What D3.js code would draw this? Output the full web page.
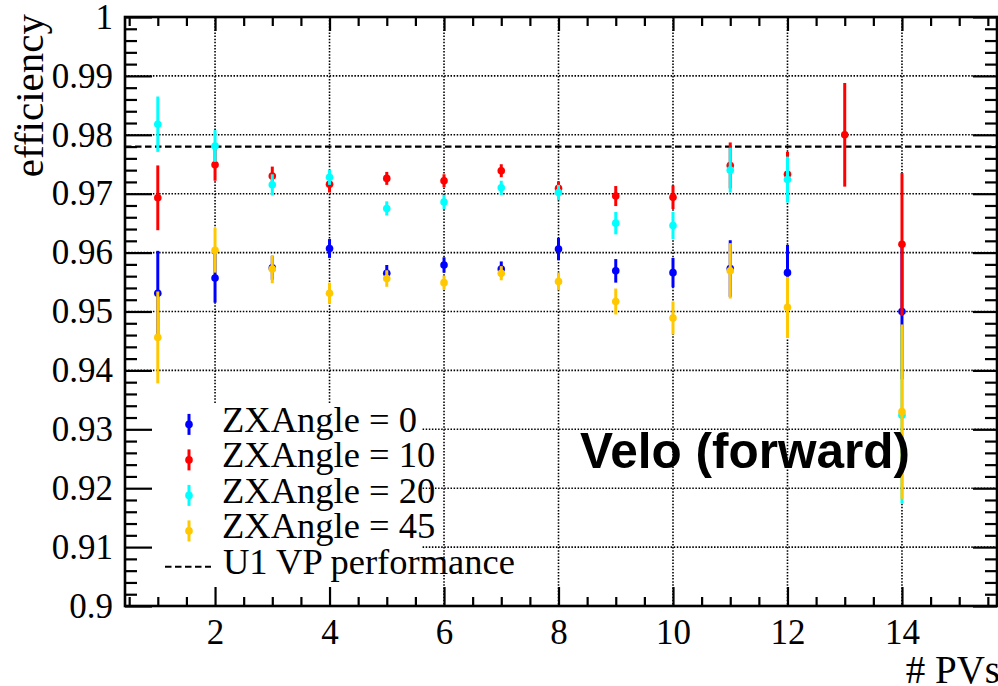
<!DOCTYPE html>
<html>
<head>
<meta charset="utf-8">
<script src="https://cdn.jsdelivr.net/npm/d3@7"></script>
<style>
	body { margin: 0; background: #fff; }
	svg { display: block; }
	.grid line { stroke: #000; stroke-width: 1.6; stroke-dasharray: 1.5 1.6; }
</style>
</head>
<body>
<div id="chart"></div>
<script>
// number of primary vertices
const nPV = [1, 2, 3, 4, 5, 6, 7, 8, 9, 10, 11, 12, 13, 14];

// efficiency per ZX angle (null = no point)
const eff0 = [0.9531, 0.9557, 0.9574, 0.9607, 0.9565, 0.9579, 0.9572, 0.9606, 0.9569, 0.9566, 0.9573, 0.9566, null, 0.9500];
const err0 = [0.0072, 0.0042, 0.0020, 0.0016, 0.0014, 0.0013, 0.0013, 0.0019, 0.0020, 0.0025, 0.0048, 0.0047, null, 0.0115];
const eff10 = [0.9693, 0.9749, 0.9730, 0.9716, 0.9726, 0.9722, 0.9739, 0.9709, 0.9696, 0.9694, 0.9748, 0.9733, 0.9800, 0.9614];
const err10 = [0.0055, 0.0027, 0.0016, 0.0014, 0.0011, 0.0011, 0.0011, 0.0012, 0.0017, 0.0020, 0.0039, 0.0038, 0.0088, 0.0121];
const eff20 = [0.9818, 0.9781, 0.9715, 0.9728, 0.9675, 0.9686, 0.9710, 0.9702, 0.9650, 0.9646, 0.9740, 0.9724, null, 0.9324];
const err20 = [0.0047, 0.0027, 0.0018, 0.0013, 0.0012, 0.0012, 0.0012, 0.0013, 0.0019, 0.0023, 0.0038, 0.0039, null, 0.0150];
const eff45 = [0.9456, 0.9604, 0.9572, 0.9531, 0.9556, 0.9549, 0.9565, 0.9551, 0.9517, 0.9489, 0.9569, 0.9507, null, 0.9330];
const err45 = [0.0078, 0.0038, 0.0024, 0.0018, 0.0014, 0.0012, 0.0012, 0.0015, 0.0022, 0.0028, 0.0047, 0.0052, null, 0.0148];

const seriesLabels = ["ZXAngle = 0", "ZXAngle = 10", "ZXAngle = 20", "ZXAngle = 45"];
const seriesColors = ["#0000ff", "#ff0000", "#00ffff", "#ffc800"];
const refLabel = "U1 VP performance";
const refValue = 0.978;

const xTicks = [2, 4, 6, 8, 10, 12, 14];
const yTicks = [0.9, 0.91, 0.92, 0.93, 0.94, 0.95, 0.96, 0.97, 0.98, 0.99, 1];

const width = 998, height = 686;
const frame = { left: 125, right: 997, top: 17, bottom: 606 };
const serif = "Liberation Serif, Times New Roman, serif";

const x = d3.scaleLinear().domain([0.427, 15.66]).range([frame.left, frame.right]);
const y = d3.scaleLinear().domain([0.9, 1]).range([frame.bottom, frame.top]);

const xMinor = d3.range(0.5, 15.6, 0.5).filter(v => xTicks.indexOf(v) < 0);
const yMinor = d3.range(0, 51).map(i => 0.9 + i * 0.002).filter(v => Math.abs(Math.round(v * 100) - v * 100) > 1e-6);

const svg = d3.select("#chart").append("svg")
	.attr("width", width)
	.attr("height", height);

// grid
const grid = svg.append("g").attr("class", "grid");
grid.selectAll(".gx")
	.data(xTicks)
	.join("line")
	.attr("x1", d => x(d)).attr("x2", d => x(d))
	.attr("y1", frame.top).attr("y2", frame.bottom);
grid.selectAll(".gy")
	.data(yTicks.filter(v => v > 0.9 && v < 1))
	.join("line")
	.attr("x1", frame.left).attr("x2", frame.right)
	.attr("y1", d => y(d)).attr("y2", d => y(d));

// legend background hides the grid
svg.append("rect")
	.attr("x", frame.left + 1).attr("y", 403)
	.attr("width", 421 - frame.left - 1).attr("height", frame.bottom - 403 - 1)
	.attr("fill", "#fff");

// reference line
svg.append("line")
	.attr("x1", frame.left).attr("x2", frame.right)
	.attr("y1", y(refValue)).attr("y2", y(refValue))
	.attr("stroke", "#000")
	.attr("stroke-width", 2.2)
	.attr("stroke-dasharray", "6.5 3.5");

// axes
const axisStyle = g => {
	g.select(".domain").remove();
	g.attr("font-family", serif).attr("font-size", 35);
	g.selectAll(".tick line").attr("stroke", "#000").attr("stroke-width", 2.2);
	g.selectAll(".tick text").attr("fill", "#000");
};

svg.append("g")
	.attr("transform", `translate(0,${frame.bottom})`)
	.call(d3.axisBottom(x).tickValues(xTicks).tickSize(-19).tickPadding(13).tickFormat(d3.format("d")))
	.call(axisStyle);
svg.append("g")
	.attr("transform", `translate(0,${frame.bottom})`)
	.call(d3.axisBottom(x).tickValues(xMinor).tickSize(-9).tickFormat(""))
	.call(axisStyle);
svg.append("g")
	.attr("transform", `translate(0,${frame.top})`)
	.call(d3.axisTop(x).tickValues(xTicks).tickSize(-14).tickFormat(""))
	.call(axisStyle);
svg.append("g")
	.attr("transform", `translate(0,${frame.top})`)
	.call(d3.axisTop(x).tickValues(xMinor).tickSize(-9).tickFormat(""))
	.call(axisStyle);

svg.append("g")
	.attr("transform", `translate(${frame.left},0)`)
	.call(d3.axisLeft(y).tickValues(yTicks).tickSize(-27).tickPadding(12).tickFormat(d => String(+d.toFixed(2))))
	.call(axisStyle);
svg.append("g")
	.attr("transform", `translate(${frame.left},0)`)
	.call(d3.axisLeft(y).tickValues(yMinor).tickSize(-12).tickFormat(""))
	.call(axisStyle);
svg.append("g")
	.attr("transform", `translate(${frame.right},0)`)
	.call(d3.axisRight(y).tickValues(yTicks).tickSize(-24).tickFormat(""))
	.call(axisStyle);
svg.append("g")
	.attr("transform", `translate(${frame.right},0)`)
	.call(d3.axisRight(y).tickValues(yMinor).tickSize(-12).tickFormat(""))
	.call(axisStyle);

// data
const series = [
	{ values: eff0, errors: err0 },
	{ values: eff10, errors: err10 },
	{ values: eff20, errors: err20 },
	{ values: eff45, errors: err45 }
];

series.forEach((s, k) => {
	const pts = nPV.map((n, i) => ({ n: n, v: s.values[i], e: s.errors[i] })).filter(d => d.v !== null);
	const g = svg.append("g").attr("class", "serie serie--" + k);
	g.selectAll("line")
		.data(pts)
		.join("line")
		.attr("x1", d => x(d.n)).attr("x2", d => x(d.n))
		.attr("y1", d => y(d.v - d.e)).attr("y2", d => y(d.v + d.e))
		.attr("stroke", seriesColors[k])
		.attr("stroke-width", 3);
	g.selectAll("circle")
		.data(pts)
		.join("circle")
		.attr("cx", d => x(d.n))
		.attr("cy", d => y(d.v))
		.attr("r", 3.8)
		.attr("fill", seriesColors[k]);
});

// frame
svg.append("rect")
	.attr("x", frame.left).attr("y", frame.top)
	.attr("width", frame.right - frame.left).attr("height", frame.bottom - frame.top)
	.attr("fill", "none")
	.attr("stroke", "#000")
	.attr("stroke-width", 2.6);

// legend
const legend = svg.append("g").attr("class", "legend");
const rowY = i => 431.7 + i * 35.5;
seriesLabels.forEach((label, i) => {
	const cy = rowY(i) - 7.3;
	legend.append("line")
		.attr("x1", 189).attr("x2", 189)
		.attr("y1", cy - 10.5).attr("y2", cy + 10.5)
		.attr("stroke", seriesColors[i])
		.attr("stroke-width", 3);
	legend.append("circle")
		.attr("cx", 189).attr("cy", cy).attr("r", 3.8)
		.attr("fill", seriesColors[i]);
	legend.append("text")
		.attr("x", 222).attr("y", rowY(i))
		.attr("font-family", serif)
		.attr("font-size", 36.5)
		.text(label);
});
legend.append("line")
	.attr("x1", 165).attr("x2", 211)
	.attr("y1", rowY(4) - 7).attr("y2", rowY(4) - 7)
	.attr("stroke", "#000")
	.attr("stroke-width", 2)
	.attr("stroke-dasharray", "6.5 3.5");
legend.append("text")
	.attr("x", 223).attr("y", rowY(4))
	.attr("font-family", serif)
	.attr("font-size", 36.5)
	.text(refLabel);

// titles
svg.append("text")
	.attr("transform", `translate(43,${frame.top - 3}) rotate(-90)`)
	.attr("text-anchor", "end")
	.attr("font-family", serif)
	.attr("font-size", 41)
	.text("efficiency");

svg.append("text")
	.attr("x", 1000).attr("y", 683)
	.attr("text-anchor", "end")
	.attr("font-family", serif)
	.attr("font-size", 39)
	.text("# PVs");

svg.append("text")
	.attr("x", 580).attr("y", 468)
	.attr("font-family", "Liberation Sans, Arial, sans-serif")
	.attr("font-weight", "bold")
	.attr("font-size", 49.5)
	.text("Velo (forward)");
</script>
</body>
</html>
